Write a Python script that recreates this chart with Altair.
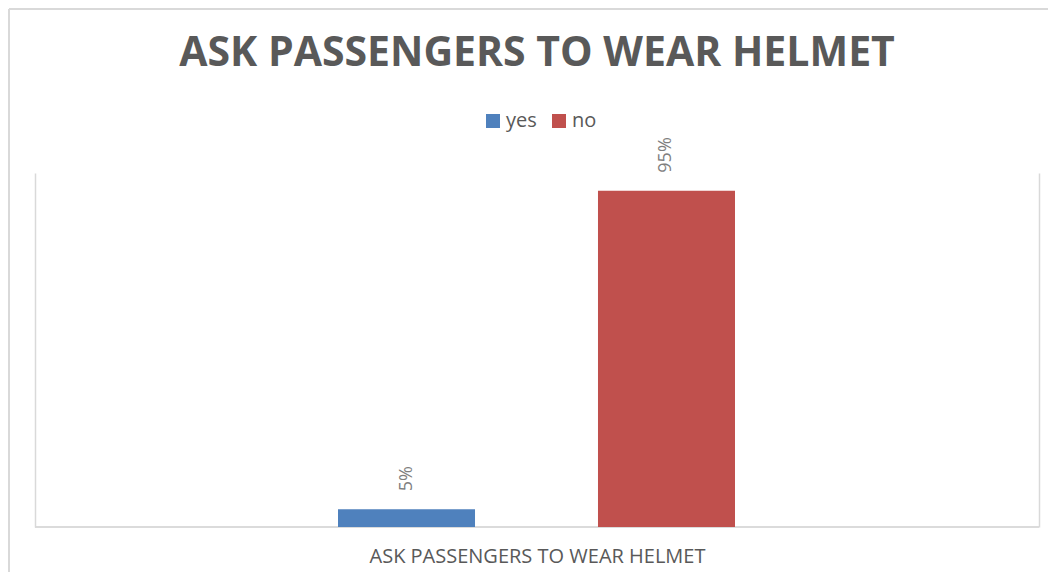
import altair as alt
import pandas as pd

categories = ["yes", "no"]
values = [0.05, 0.95]
colors = ["#4F81BD", "#C0504D"]
title_text = "ASK PASSENGERS TO WEAR HELMET"
axis_title = "ASK PASSENGERS TO WEAR HELMET"

df = pd.DataFrame({"answer": categories, "share": values})

W, H = 1004, 354
x_scale = alt.Scale(domain=categories, range=[303, 700], paddingInner=0.473, paddingOuter=0)
x_axis = alt.Axis(
    title=axis_title, labels=False, ticks=False, domain=False, grid=False,
    titleFont="Open Sans", titleFontSize=20, titleFontWeight="normal",
    titleColor="#595959", titleBaseline="alphabetic", titleY=35,
    titleX=W / 2, titleAnchor="middle",
)

bars = alt.Chart(df).mark_bar().encode(
    x=alt.X("answer:N", sort=categories, scale=x_scale, axis=x_axis),
    y=alt.Y("share:Q", scale=alt.Scale(domain=[0, 1]),
            axis=alt.Axis(title=None, labels=False, ticks=False, grid=False,
                          domain=True, domainColor="#d9d9d9", domainWidth=1.5,
                          orient="left")),
    color=alt.Color("answer:N", sort=categories,
                    scale=alt.Scale(domain=categories, range=colors),
                    legend=alt.Legend(
                        title=None, orient="none", direction="horizontal",
                        legendX=448, legendY=-62, symbolType="square",
                        symbolSize=196, symbolStrokeWidth=0,
                        labelFont="Open Sans", labelFontSize=20,
                        labelColor="#595959", labelOffset=3,
                        columnPadding=12, padding=0,
                    )),
)

labels = alt.Chart(df).mark_text(
    angle=270, align="left", baseline="middle", yOffset=-18,
    font="Open Sans", fontSize=18, color="#7f7f7f",
).encode(
    x=alt.X("answer:N", sort=categories, scale=x_scale, axis=x_axis),
    y=alt.Y("share:Q", scale=alt.Scale(domain=[0, 1]),
            axis=alt.Axis(title=None, labels=False, ticks=False, grid=False,
                          domain=True, domainColor="#d9d9d9", domainWidth=1.5,
                          orient="right")),
    text=alt.Text("share:Q", format=".0%"),
)

bottom_line = alt.Chart(df).mark_rule(color="#d9d9d9", strokeWidth=1.5).encode(
    x=alt.value(0), x2=alt.value(W), y=alt.value(H)
)
frame_top = alt.Chart(df).mark_rule(color="#d9d9d9", strokeWidth=2).encode(
    x=alt.value(-26), x2=alt.value(W + 9), y=alt.value(-164)
)
frame_left = alt.Chart(df).mark_rule(color="#d9d9d9", strokeWidth=2).encode(
    x=alt.value(-26), y=alt.value(-164), y2=alt.value(H + 45)
)

chart = alt.layer(frame_top, frame_left, bottom_line, bars, labels).resolve_axis(
    y="independent"
).properties(
    width=W, height=H,
    background="white",
    autosize=alt.AutoSizeParams(type="none"),
    padding={"left": 27, "top": 165, "right": 9, "bottom": 45},
    title=alt.TitleParams(
        text=title_text, font="Open Sans", fontSize=41, fontWeight="bold",
        color="#595959", anchor="middle", frame="group",
        baseline="alphabetic", offset=-99,
    ),
).configure_view(stroke=None)

chart.save("out.html", embed_options={"renderer": "svg", "actions": False})
